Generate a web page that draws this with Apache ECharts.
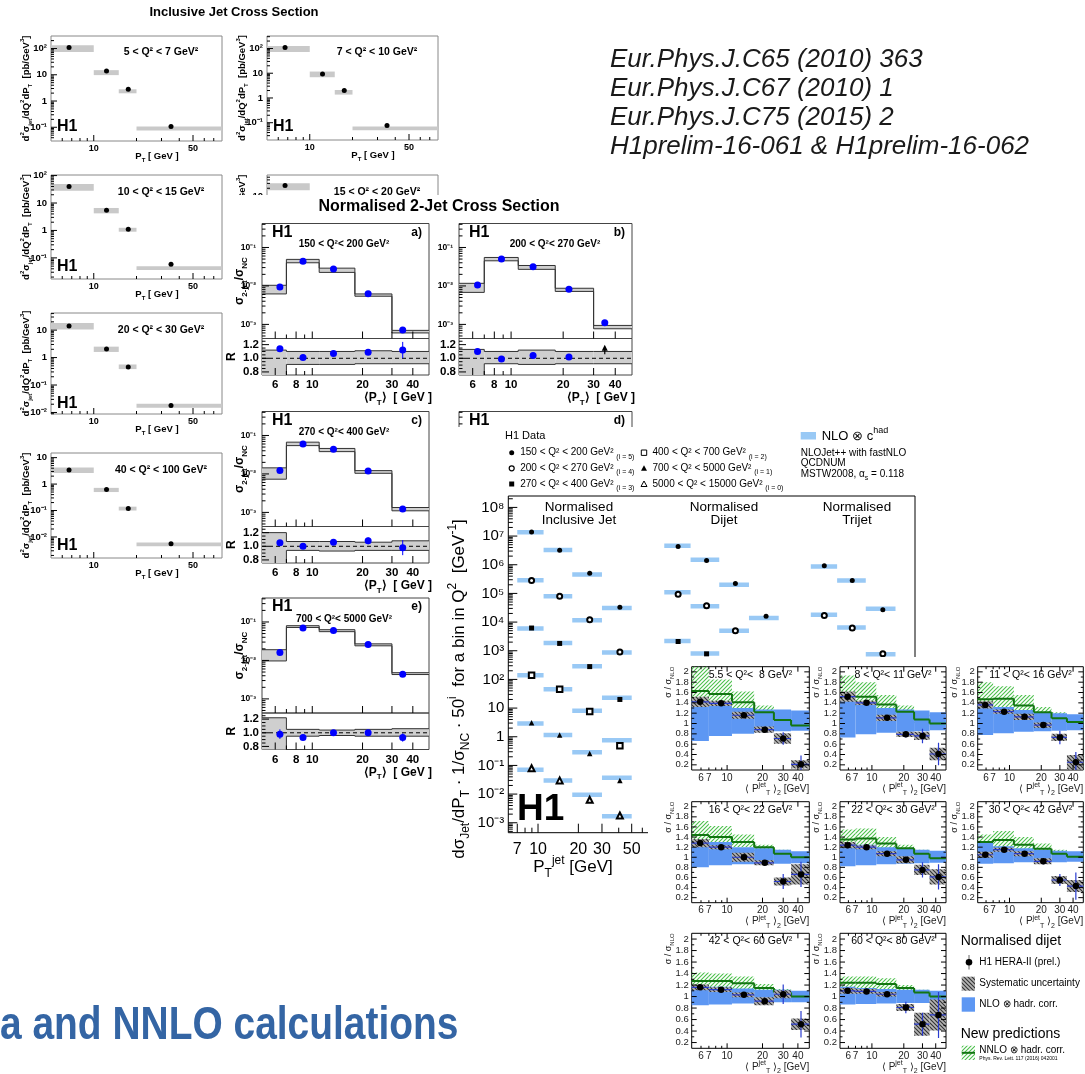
<!DOCTYPE html>
<html><head><meta charset="utf-8"><title>H1 jet cross sections</title>
<script src="https://cdn.jsdelivr.net/npm/echarts@6.0.0/dist/echarts.min.js"></script>
<style>html,body{margin:0;padding:0;background:#fff}body{position:relative;width:1085px;height:1074px;overflow:hidden}</style>
</head><body>
<script>
// ===================== DATA =====================
// --- Inclusive jet cross sections d²σ/dQ²dP_T [pb/GeV³] (top-left block) ---
const incQ2Labels = ['5 < Q² < 7 GeV²','7 < Q² < 10 GeV²','10 < Q² < 15 GeV²','15 < Q² < 20 GeV²','20 < Q² < 30 GeV²','40 < Q² < 100 GeV²'];
const incPtLo = [5, 10, 15, 20];
const incPtHi = [10, 15, 20, 80];
const incPtMid = [6.7, 12.3, 17.5, 35];
const incSigma = [
  [110, 14, 2.8, 0.106],
  [110, 9.4, 2.0, 0.078],
  [40, 5.4, 1.1, 0.059],
  [25, 3.2, 0.75, 0.035],
  [14, 2.04, 0.45, 0.018],
  [3.4, 0.62, 0.12, 0.0055]
];
const incNloLo = [
  [74, 9.7, 1.97, 0.075],
  [73, 6.9, 1.37, 0.049],
  [28, 4.2, 0.9, 0.036],
  [17, 2.5, 0.6, 0.022],
  [10.5, 1.6, 0.38, 0.015],
  [2.6, 0.5, 0.1, 0.0045]
];
const incNloHi = [
  [134, 15, 2.8, 0.106],
  [127, 11.7, 2.1, 0.071],
  [49, 6.6, 1.25, 0.05],
  [30, 3.8, 0.9, 0.03],
  [18, 2.5, 0.56, 0.021],
  [4.2, 0.72, 0.14, 0.0062]
];
const incYTicks = [[100,10,1,0.1],[100,10,1,0.1],[100,10,1,0.1],[10,1,0.1],[10,1,0.1,0.01],[10,1,0.1,0.01]];
const incXTicks = [6,7,8,9,10,20,30,40,50,60,70];
const incXLabels = ['','','','','10','','','','50','',''];

// --- Normalised 2-jet cross sections (middle block) ---
const djEdges = [5,7,11,18,30,50];
const djPt = [6.4,8.8,13.4,21.6,34.8];
const djQ2 = ['150 < Q²< 200 GeV²','200 < Q²< 270 GeV²','270 < Q²< 400 GeV²','400 < Q²< 700 GeV²','700 < Q²< 5000 GeV²'];
const djTag = ['a)','b)','c)','d)','e)'];
const djSigma = [[0.0094,0.044,0.0276,0.0063,0.00071],[0.0106,0.050,0.0316,0.0082,0.0011],[0.0122,0.060,0.044,0.012,0.00123],null,[0.016,0.07,0.06,0.026,0.0044]];
const djNloLo = [[0.0062,0.040,0.0225,0.0054,0.0006],[0.0068,0.045,0.027,0.0072,0.00077],[0.0073,0.0545,0.038,0.0104,0.0011],null,[0.0097,0.072,0.056,0.024,0.0043]];
const djNloHi = [[0.0104,0.049,0.029,0.0062,0.0007],[0.0117,0.055,0.034,0.0087,0.00094],[0.0144,0.067,0.046,0.0122,0.00134],null,[0.019,0.08,0.063,0.027,0.0048]];
const djRatio = [[1.14,1.01,1.07,1.09,1.12],[1.1,0.99,1.04,1.02,null],[1.05,1.0,1.06,1.08,0.98],null,[0.98,0.93,1.0,1.0,0.93]];
const djRatioErr = [[0.015,0.01,0.015,0.04,0.12],[0.03,0.01,0.015,0.03,0],[0.04,0.01,0.015,0.05,0.11],null,[0.07,0.015,0.015,0.02,0.06]];
const djBandLo = [[0.6,0.91,0.91,0.92,0.92],[0.6,0.92,0.91,0.92,0.92],[0.6,0.94,0.93,0.94,0.94],null,[0.6,0.95,0.96,0.95,0.95]];
const djBandHi = [[1.12,1.10,1.10,1.11,1.10],[1.13,1.10,1.12,1.10,1.10],[1.2,1.07,1.07,1.06,1.08],null,[1.22,1.05,1.04,1.05,1.06]];
const djArrow = [34.8, 1.06, 1.2];
const djXTicks = [6,7,8,9,10,20,30,40];
const djXLabels = ['6','','8','','10','20','30','40'];

// --- Normalised inclusive jet / dijet / trijet (scaled by 50^i) ---
const bigQ2Labels = ['150 < Q² < 200 GeV²','200 < Q² < 270 GeV²','270 < Q² < 400 GeV²','400 < Q² < 700 GeV²','700 < Q² < 5000 GeV²','5000 < Q² < 15000 GeV²'];
const bigIdx = ['(i = 5)','(i = 4)','(i = 3)','(i = 2)','(i = 1)','(i = 0)'];
const incJetBins = [[7,11],[11,18],[18,30],[30,50]];
const incJetPt = [8.95,14.5,24.3,40.8];
const incJetY = [[1.4e7,3.2e6,5e5,3.3e4],[2.8e5,8e4,1.2e4,900],[6200,1800,280,20],[140,45,7.6,0.49],[3.1,1.15,0.26,0.03],[0.08,0.03,0.0063,0.0018]];
const incJetNLO = [[1.35e7,3.3e6,4.6e5,3.1e4],[2.9e5,8e4,1.15e4,870],[6000,1850,290,23],[140,45,8,0.75],[2.9,1.15,0.29,0.037],[0.07,0.03,0.0095,0.0017]];
const diJetBins = [[87.5,137.5],[137.5,225],[225,375],[375,625]];
const diJetPt = [111,181,297,503];
const diJetY = [[4.3e6,1.4e6,2.2e5,1.6e4],[9.3e4,3.7e4,5000,400],[2100,780,120,9]];
const diJetNLO = [[4.6e6,1.5e6,2e5,1.4e4],[1.1e5,3.6e4,5000,420],[2200,800,120,9]];
const triJetBins = [[1085,1705],[1705,2790],[2790,4650]];
const triJetPt = [1368,2212,3740];
const triJetY = [[9.3e5,2.8e5,2.7e4],[1.7e4,6200,780]];
const triJetNLO = [[8.6e5,2.8e5,2.9e4],[1.8e4,6500,750]];
const bigYTicks = [1e8,1e7,1e6,1e5,1e4,1e3,100,10,1,0.1,0.01,0.001];
const bigXTicks = [7,8,9,10,20,30,40,50,60,70,80,90];
const bigXLabels = ['7','','','10','20','30','','50','','','',''];

// --- Ratio to NLO, normalised dijet HERA-II (bottom-right block) ---
const rcQ2 = ['5.5 < Q²<  8 GeV²','8 < Q²< 11 GeV²','11 < Q²< 16 GeV²','16 < Q²< 22 GeV²','22 < Q²< 30 GeV²','30 < Q²< 42 GeV²','42 < Q²< 60 GeV²','60 < Q²< 80 GeV²'];
const rcBins = [[5,7],[7,11],[11,17],[17,25],[25,35],[35,50]];
const rcPt = [5.9,8.9,13.9,20.9,30,42.5];
const rcData = [[1.42,1.39,1.16,0.88,0.71,0.21],[1.52,1.40,1.11,0.79,0.76,0.41],[1.36,1.23,1.13,0.97,0.73,0.25],[1.28,1.2,1.0,0.89,0.52,0.66],[1.24,1.2,1.07,0.95,0.75,0.61],[1.05,1.15,1.07,0.92,0.55,0.43],[1.16,1.12,1.03,0.92,1.04,0.52],[1.1,1.09,1.04,0.81,0.52,0.68]];
const rcStat = [[0.04,0.03,0.04,0.04,0.12,0.17],[0.04,0.03,0.04,0.06,0.14,0.22],[0.04,0.03,0.03,0.05,0.13,0.2],[0.04,0.03,0.03,0.05,0.15,0.25],[0.04,0.03,0.03,0.06,0.15,0.25],[0.04,0.03,0.03,0.06,0.12,0.27],[0.04,0.03,0.04,0.05,0.17,0.23],[0.05,0.04,0.04,0.1,0.2,0.4]];
const rcSys = [[0.1,0.05,0.07,0.06,0.1,0.08],[0.1,0.04,0.06,0.05,0.08,0.12],[0.07,0.04,0.06,0.05,0.07,0.14],[0.08,0.04,0.09,0.05,0.08,0.2],[0.06,0.04,0.05,0.07,0.1,0.15],[0.06,0.04,0.05,0.06,0.08,0.12],[0.05,0.04,0.04,0.07,0.07,0.1],[0.05,0.04,0.04,0.06,0.2,0.27]];
const rcNNLO = [[1.63,1.57,1.41,1.22,1.07,0.96],[1.53,1.52,1.37,1.23,1.08,1.0],[1.47,1.48,1.35,1.22,1.1,1.03],[1.44,1.4,1.3,1.2,1.07,1.0],[1.35,1.37,1.27,1.18,1.07,0.98],[1.3,1.34,1.25,1.17,1.07,1.01],[1.27,1.27,1.23,1.15,1.07,1.0],[1.24,1.24,1.22,1.15,1.07,1.0]];
const rcNNLOLo = [[1.38,1.35,1.25,1.1,0.98,0.9],[1.3,1.3,1.22,1.1,1.0,0.94],[1.28,1.3,1.2,1.1,1.0,0.96],[1.3,1.25,1.2,1.08,1.0,0.95],[1.2,1.22,1.15,1.08,1.0,0.94],[1.15,1.2,1.15,1.07,1.0,0.96],[1.13,1.15,1.1,1.05,1.0,0.96],[1.13,1.14,1.1,1.05,1.0,0.95]];
const rcNNLOHi = [[2.15,1.85,1.62,1.35,1.18,1.07],[1.93,1.8,1.55,1.35,1.2,1.1],[1.8,1.72,1.55,1.32,1.22,1.1],[1.72,1.62,1.45,1.25,1.15,1.05],[1.55,1.57,1.4,1.25,1.15,1.05],[1.45,1.52,1.4,1.27,1.15,1.08],[1.42,1.4,1.35,1.22,1.13,1.05],[1.35,1.35,1.32,1.2,1.12,1.05]];
const rcNLOLo = [[0.66,0.76,0.8,0.83,0.85,0.86],[0.73,0.79,0.82,0.84,0.85,0.87],[0.78,0.81,0.84,0.85,0.86,0.87],[0.8,0.84,0.86,0.86,0.87,0.88],[0.82,0.84,0.86,0.87,0.88,0.89],[0.87,0.88,0.9,0.9,0.9,0.91],[0.85,0.86,0.88,0.89,0.9,0.9],[0.86,0.87,0.88,0.89,0.89,0.9]];
const rcNLOHi = [[1.45,1.38,1.3,1.27,1.27,1.25],[1.45,1.38,1.3,1.27,1.25,1.22],[1.38,1.32,1.26,1.22,1.2,1.18],[1.35,1.3,1.2,1.18,1.15,1.12],[1.3,1.25,1.2,1.17,1.15,1.13],[1.28,1.22,1.18,1.15,1.13,1.12],[1.2,1.17,1.14,1.12,1.12,1.1],[1.17,1.15,1.13,1.12,1.12,1.1]];
const rcYTicks = [0.2,0.4,0.6,0.8,1,1.2,1.4,1.6,1.8,2];
const rcYLabels = ['0.2','0.4','0.6','0.8','1','1.2','1.4','1.6','1.8','2'];
const rcXTicks = [6,7,8,9,10,20,30,40];
const rcXLabels = ['6','7','','','10','20','30','40'];

// ===================== HELPERS =====================
const FONT = "'Liberation Sans', Arial, Helvetica, sans-serif";
function fnt(sz,b,it,fam){return (it?'italic ':'')+(b?'bold ':'')+sz+'px '+(fam||FONT);}
function richSS(sz,b){const w=b?'bold':'normal',s=Math.round(sz*0.68);
  return {sub:{fontSize:s,fontWeight:w,fontFamily:FONT,verticalAlign:'bottom'},
          sup:{fontSize:s,fontWeight:w,fontFamily:FONT,verticalAlign:'top'},
          sm:{fontSize:Math.round(sz*0.72),fontWeight:w,fontFamily:FONT,verticalAlign:'bottom'}};}
const SUPC={'0':'⁰','1':'¹','2':'²','3':'³','4':'⁴','5':'⁵','6':'⁶','7':'⁷','8':'⁸','9':'⁹','-':'⁻'};
function pw(v){const e=Math.round(Math.log10(v)); if(e===0)return '1'; if(e===1)return '10'; return '10'+String(e).split('').map(c=>SUPC[c]).join('');}
function logMinor(a,b){const r=[];for(let e=Math.floor(Math.log10(a));e<=Math.ceil(Math.log10(b));e++)for(let m=2;m<=9;m++){const v=m*Math.pow(10,e);if(v>a*1.0001&&v<b*0.9999)r.push(v);}return r;}

function S(x,y,w,h,z){
  const d=document.createElement('div');
  d.style.cssText='position:absolute;left:'+x+'px;top:'+y+'px;width:'+w+'px;height:'+h+'px;background:#fff;z-index:'+z;
  document.body.appendChild(d);
  return {d,ox:x,oy:y,opt:{animation:false,grid:[],xAxis:[],yAxis:[],series:[],graphic:{elements:[]}}};
}
function P(s,x1,y1,x2,y2,xlog,xmin,xmax,ylog,ymin,ymax,bc){
  const gi=s.opt.grid.length;
  s.opt.grid.push({left:x1-s.ox,top:y1-s.oy,width:x2-x1,height:y2-y1,show:true,borderColor:bc||'#000',borderWidth:1,backgroundColor:'rgba(0,0,0,0)'});
  const ax=(lg,mn,mx)=>({gridIndex:gi,type:lg?'log':'value',logBase:10,min:mn,max:mx,show:false,splitLine:{show:false}});
  s.opt.xAxis.push(ax(xlog,xmin,xmax)); s.opt.yAxis.push(ax(ylog,ymin,ymax));
  return {s,gi,x1,y1,x2,y2,xmin,xmax,ymin,ymax};
}
function C(p,data,render,z,clip,enc){
  p.s.opt.series.push({type:'custom',xAxisIndex:p.gi,yAxisIndex:p.gi,data,renderItem:render,clip:clip!==false,silent:true,z:z||2,encode:enc||{x:0,y:1},animation:false});
}
function SC(p,data,symbol,size,color,bw,z){
  p.s.opt.series.push({type:'scatter',xAxisIndex:p.gi,yAxisIndex:p.gi,data,symbol,symbolSize:size,silent:true,z:z||8,animation:false,
    itemStyle:{color:color,borderColor:color,borderWidth:bw||0,opacity:1}});
}
function txt(s,x,y,text,o){o=o||{};const sz=o.size||12;
  const el={type:'text',x:x-s.ox,y:y-s.oy,z:100,silent:true,
    style:{text:text,font:fnt(sz,o.bold,o.italic,o.family),fill:o.color||'#000',align:o.align||'left',verticalAlign:o.va||'middle'}};
  if(o.rot)el.rotation=o.rot;
  if(o.sx)el.scaleX=o.sx;
  if(text.indexOf('{')>=0){el.style.rich=richSS(sz,o.bold);el.style.lineHeight=Math.round(sz*1.45);}
  s.opt.graphic.elements.push(el);
}
function gel(s,el){
  if(el.shape){
    if(el.shape.x!==undefined)el.shape.x-=s.ox; if(el.shape.y!==undefined)el.shape.y-=s.oy;
    if(el.shape.cx!==undefined){el.shape.cx-=s.ox;el.shape.cy-=s.oy;}
    if(el.shape.x1!==undefined){el.shape.x1-=s.ox;el.shape.x2-=s.ox;el.shape.y1-=s.oy;el.shape.y2-=s.oy;}
    if(el.shape.points)el.shape.points=el.shape.points.map(q=>[q[0]-s.ox,q[1]-s.oy]);
  }
  el.z=el.z||90; el.silent=true; s.opt.graphic.elements.push(el);
}
const ln=(x1,y1,x2,y2,c,w,dash)=>({type:'line',shape:{x1,y1,x2,y2},style:{stroke:c||'#000',lineWidth:w||1,lineDash:dash||null}});
const R={
  rect:st=>(pa,api)=>{const a=api.coord([api.value(0),api.value(3)]),b=api.coord([api.value(1),api.value(2)]);
    return {type:'rect',shape:{x:a[0],y:a[1],width:b[0]-a[0],height:b[1]-a[1]},style:st};},
  hseg:st=>(pa,api)=>{const a=api.coord([api.value(0),api.value(2)]),b=api.coord([api.value(1),api.value(2)]);
    return {type:'line',shape:{x1:a[0],y1:a[1],x2:b[0],y2:b[1]},style:st};},
  step:st=>(pa,api)=>{const a=api.coord([api.value(0),api.value(2)]),b=api.coord([api.value(1),api.value(2)]);
    const ch=[{type:'line',shape:{x1:a[0],y1:a[1],x2:b[0],y2:b[1]},style:st}];
    if(api.value(4)){const c=api.coord([api.value(0),api.value(3)]);ch.push({type:'line',shape:{x1:a[0],y1:c[1],x2:a[0],y2:a[1]},style:st});}
    return {type:'group',children:ch};},
  verr:st=>(pa,api)=>{const x=api.value(0),y=api.value(1),e=api.value(2);const a=api.coord([x,y-e]),b=api.coord([x,y+e]);
    return {type:'line',shape:{x1:a[0],y1:a[1],x2:b[0],y2:b[1]},style:st};},
  xyerr:st=>(pa,api)=>{const x=api.value(0),y=api.value(1),e=api.value(2);
    const a=api.coord([x,y-e]),b=api.coord([x,y+e]),l=api.coord([api.value(3),y]),r=api.coord([api.value(4),y]);
    return {type:'group',children:[{type:'line',shape:{x1:a[0],y1:a[1],x2:b[0],y2:b[1]},style:st},{type:'line',shape:{x1:l[0],y1:l[1],x2:r[0],y2:r[1]},style:st}]};},
  arrow:st=>(pa,api)=>{const a=api.coord([api.value(0),api.value(1)]),b=api.coord([api.value(0),api.value(2)]);
    return {type:'group',children:[{type:'line',shape:{x1:a[0],y1:a[1],x2:b[0],y2:b[1]+2},style:st},
      {type:'polygon',shape:{points:[[b[0],b[1]],[b[0]-3,b[1]+6],[b[0]+3,b[1]+6]]},style:{fill:st.stroke}}]};}
};
function stepData(edges,vals){return vals.map((v,j)=>[edges[j],edges[j+1],v,j>0?vals[j-1]:v,j>0?1:0]);}
function xt(p,vals,labs,o){
  C(p,vals.map((v,i)=>[v,p.ymin,i]),(pa,api)=>{
    const v=api.value(0),i=api.value(2);const b=api.coord([v,p.ymin]);
    const major=o.major?o.major.indexOf(v)>=0:!!(labs&&labs[i]);
    const L=major?o.len:(o.mlen||o.len*0.5);const tc=o.tc||'#000';
    const ch=[ln(b[0],b[1],b[0],b[1]-L,tc)];
    if(o.top){const t=api.coord([v,p.ymax]);ch.push(ln(t[0],t[1],t[0],t[1]+L,tc));}
    if(labs&&labs[i]&&!o.noLab)ch.push({type:'text',x:b[0],y:b[1]+o.dy,style:{text:labs[i],font:o.font,fill:o.color||'#000',align:'center',verticalAlign:'middle'}});
    return {type:'group',children:ch};
  },9,false);
}
function yt(p,vals,labs,o){
  C(p,vals.map((v,i)=>[p.xmin,v,i]),(pa,api)=>{
    const v=api.value(1),i=api.value(2);const a=api.coord([p.xmin,v]);const tc=o.tc||'#000';
    const ch=[ln(a[0],a[1],a[0]+o.len,a[1],tc)];
    if(o.right){const r=api.coord([p.xmax,v]);ch.push(ln(r[0],r[1],r[0]-o.len,r[1],tc));}
    if(labs&&labs[i])ch.push({type:'text',x:a[0]-o.dx,y:a[1],style:{text:labs[i],font:o.font,fill:o.color||'#000',align:'right',verticalAlign:'middle'}});
    return {type:'group',children:ch};
  },9,false);
}
function hatch(bg,fg,size,lw,dir){
  const c=document.createElement('canvas');c.width=c.height=size;const g=c.getContext('2d');
  if(bg){g.fillStyle=bg;g.fillRect(0,0,size,size);}
  g.strokeStyle=fg;g.lineWidth=lw;g.beginPath();
  if(dir>0){g.moveTo(0,size);g.lineTo(size,0);g.moveTo(-size/2,size/2);g.lineTo(size/2,-size/2);g.moveTo(size/2,size*1.5);g.lineTo(size*1.5,size/2);}
  else{g.moveTo(0,0);g.lineTo(size,size);g.moveTo(size/2,-size/2);g.lineTo(size*1.5,size/2);g.moveTo(-size/2,size/2);g.lineTo(size/2,size*1.5);}
  g.stroke();return {image:c,repeat:'repeat'};
}
const sysHatch=hatch('#b5b5b5','#333',4,1.1,-1);
const nnloHatch=hatch(null,'#4cc04c',4,1.1,1);

// ===================== SHEET 0: page texts =====================
const s0=S(0,0,1085,1074,0);
['Eur.Phys.J.C65 (2010) 363','Eur.Phys.J.C67 (2010) 1','Eur.Phys.J.C75 (2015) 2','H1prelim-16-061 & H1prelim-16-062'].forEach((t,i)=>
  txt(s0,610,60+i*29,t,{size:26,italic:true,color:'#1a1a1a'}));
txt(s0,0,1026,'a and NNLO calculations',{size:46,bold:true,color:'#3465a4',sx:0.846});

// ===================== SHEET 1: inclusive jet =====================
const s1=S(0,0,455,600,1);
txt(s1,234,12,'Inclusive Jet Cross Section',{size:13,bold:true,align:'center'});
const incBox=[[51,36,222,141],[267,36,438,140],[51,175,222,279],[267,175,438,280],[51,313,222,414],[51,453,222,558]];
const incYRange=[[0.03,300],[0.02,320],[0.017,105],[0.01,60],[0.0088,42],[0.0016,15]];
const incTextY=[52,52,192,192,330,470];
const incH1Y=[127,127,267,0,404,546];
incBox.forEach((B,k)=>{
  const p=P(s1,B[0],B[1],B[2],B[3],true,5,80,true,incYRange[k][0],incYRange[k][1],'#888');
  C(p,incPtLo.map((lo,j)=>[lo,incPtHi[j],incNloLo[k][j],incNloHi[k][j]]),R.rect({fill:'#c9c9c9'}),2,true,{x:[0,1],y:[2,3]});
  SC(p,incPtMid.map((x,j)=>[x,incSigma[k][j]]),'circle',5,'#000');
  yt(p,incYTicks[k],incYTicks[k].map(pw),{len:6,font:fnt(9.5,true),dx:4});
  yt(p,logMinor(p.ymin,p.ymax),null,{len:3});
  xt(p,incXTicks,incXLabels,{len:6,mlen:3,font:fnt(9,true),dy:8});
  txt(s1,B[0]+110,incTextY[k],incQ2Labels[k],{size:10.5,bold:true,align:'center'});
  if(incH1Y[k])txt(s1,B[0]+6,incH1Y[k],'H1',{size:16,bold:true});
  txt(s1,B[0]+106,B[3]+15,'P{sub|T} [ GeV ]',{size:9.5,bold:true,align:'center'});
  txt(s1,B[0]-25,(B[1]+B[3])/2,'d{sup|2}σ{sub|jet}/dQ{sup|2}dP{sub|T}  [pb/GeV{sup|3}]',{size:9.5,bold:true,align:'center',rot:Math.PI/2});
});

// ===================== SHEET 2: normalised 2-jet =====================
const s2=S(226,195,414,590,2);
txt(s2,439,207,'Normalised 2-Jet Cross Section',{size:16,bold:true,align:'center'});
const djBox=[[262,429,223.5,338.5,375],[459,632,223.5,338.5,375],[262,429,411.5,526.5,563],[459,632,411.5,526.5,563],[262,429,598,713,749.5]];
const djQx=[82,96,82,90,82];
djBox.forEach((B,k)=>{
  const [x1,x2,t,m,b]=B;
  const up=P(s2,x1,t,x2,m,true,5,50,true,4.3e-4,0.42,'#444');
  const rt=P(s2,x1,m,x2,b,true,5,50,false,0.755,1.29,'#444');
  if(djSigma[k]){
    C(up,djPt.map((x,j)=>[djEdges[j],djEdges[j+1],djNloLo[k][j],djNloHi[k][j]]),R.rect({fill:'#cfcfcf'}),2,true,{x:[0,1],y:[2,3]});
    C(up,stepData(djEdges,djNloLo[k]),R.step({stroke:'#333',lineWidth:1}),3,true,{x:[0,1],y:2});
    C(up,stepData(djEdges,djNloHi[k]),R.step({stroke:'#333',lineWidth:1}),3,true,{x:[0,1],y:2});
    SC(up,djPt.map((x,j)=>[x,djSigma[k][j]]),'circle',7,'#0000ff');
    C(rt,djPt.map((x,j)=>[djEdges[j],djEdges[j+1],djBandLo[k][j],djBandHi[k][j]]),R.rect({fill:'#cfcfcf'}),2,true,{x:[0,1],y:[2,3]});
    C(rt,stepData(djEdges,djBandLo[k]),R.step({stroke:'#333',lineWidth:1}),3,true,{x:[0,1],y:2});
    C(rt,stepData(djEdges,djBandHi[k]),R.step({stroke:'#333',lineWidth:1}),3,true,{x:[0,1],y:2});
    C(rt,[[5,50,1.0]],R.hseg({stroke:'#000',lineWidth:1,lineDash:[4,3]}),4,true,{x:[0,1],y:2});
    const rd=djPt.map((x,j)=>[x,djRatio[k][j],djRatioErr[k][j]]).filter(d=>d[1]!=null);
    C(rt,rd,R.verr({stroke:'#0000ff',lineWidth:1}),5);
    SC(rt,rd.map(d=>[d[0],d[1]]),'circle',7,'#0000ff');
    if(k===1)C(rt,[djArrow],R.arrow({stroke:'#000',lineWidth:1.2}),6,true,{x:0,y:[1,2]});
  }
  yt(up,[0.1,0.01,0.001],['10⁻¹','10⁻²','10⁻³'],{len:7,font:fnt(8.5,true),dx:6});
  yt(up,logMinor(4.3e-4,0.42),null,{len:3.5});
  yt(rt,[0.8,1.0,1.2],['0.8','1.0','1.2'],{len:7,font:fnt(11.5,true),dx:3});
  yt(rt,[0.85,0.9,0.95,1.05,1.1,1.15,1.25],null,{len:3.5});
  xt(up,djXTicks,djXLabels,{len:7,mlen:4,noLab:true});
  xt(rt,djXTicks,djXLabels,{len:7,mlen:4,font:fnt(11.5,true),dy:10});
  txt(s2,x1+10,t+9,'H1',{size:16,bold:true});
  txt(s2,x2-7,t+9,djTag[k],{size:12,bold:true,align:'right'});
  txt(s2,x1+djQx[k],t+21,djQ2[k],{size:10,bold:true,align:'center'});
  txt(s2,x2+3,b+23,'⟨P{sub|T}⟩  [ GeV ]',{size:12,bold:true,align:'right'});
  if(k%2===0){
    txt(s2,x1-22,(t+m)/2,'σ{sub|2-jet}/σ{sub|NC}',{size:12,bold:true,align:'center',rot:Math.PI/2});
    txt(s2,x1-30,(m+b)/2,'R',{size:12,bold:true,align:'center',rot:Math.PI/2});
  }
});

// ===================== SHEET 3: normalised jet summary =====================
const s3=S(437,427,483,463,3);
const bg=P(s3,508.3,496,915,832.7,true,6,6500,true,4.5e-4,2.5e8,'#000');
const secs=[{bins:incJetBins,mid:incJetPt,y:incJetY,t:incJetNLO},{bins:diJetBins,mid:diJetPt,y:diJetY,t:diJetNLO},{bins:triJetBins,mid:triJetPt,y:triJetY,t:triJetNLO}];
const mk=[['circle',5,0],['emptyCircle',5,1.3],['rect',5,0],['emptyRect',5.5,1.2],['triangle',5.5,0],['emptyTriangle',6,1.1]];
secs.forEach(sec=>{
  sec.t.forEach(arr=>C(bg,sec.bins.map((b,j)=>[b[0],b[1],arr[j]]),R.hseg({stroke:'#99c9f5',lineWidth:4.5}),2,true,{x:[0,1],y:2}));
  sec.y.forEach((arr,i)=>SC(bg,sec.mid.map((x,j)=>[x,arr[j]]),mk[i][0],mk[i][1],'#000',mk[i][2]));
});
yt(bg,bigYTicks,bigYTicks.map(pw),{len:9,font:fnt(15),dx:4});
yt(bg,logMinor(4.5e-4,2.5e8),null,{len:4.5});
xt(bg,bigXTicks,bigXLabels,{len:9,mlen:5,font:fnt(16),dy:17});
txt(s3,579,507,'Normalised',{size:13.5,align:'center'});
txt(s3,579,520,'Inclusive Jet',{size:13.5,align:'center'});
txt(s3,724,507,'Normalised',{size:13.5,align:'center'});
txt(s3,724,520,'Dijet',{size:13.5,align:'center'});
txt(s3,857,507,'Normalised',{size:13.5,align:'center'});
txt(s3,857,520,'Trijet',{size:13.5,align:'center'});
txt(s3,517,810,'H1',{size:37,bold:true});
txt(s3,573,867,'P{sub|T}{sup|jet} [GeV]',{size:17,align:'center'});
txt(s3,459,689,'dσ{sub|Jet}/dP{sub|T} · 1/σ{sub|NC} · 50{sup|i}  for a bin in Q{sup|2}  [GeV{sup|-1}]',{size:17,align:'center',rot:Math.PI/2});
// legend
txt(s3,505,436,'H1 Data',{size:11});
const legPos=[[511.7,452.7],[511.7,468.3],[511.7,484],[644,452.7],[644,468.3],[644,484]];
legPos.forEach((q,i)=>{
  const [x,y]=q;
  if(i===0)gel(s3,{type:'circle',shape:{cx:x,cy:y,r:2.5},style:{fill:'#000'}});
  if(i===1)gel(s3,{type:'circle',shape:{cx:x,cy:y,r:2.5},style:{fill:'#fff',stroke:'#000',lineWidth:1.2}});
  if(i===2)gel(s3,{type:'rect',shape:{x:x-2.5,y:y-2.5,width:5,height:5},style:{fill:'#000'}});
  if(i===3)gel(s3,{type:'rect',shape:{x:x-2.7,y:y-2.7,width:5.4,height:5.4},style:{fill:'#fff',stroke:'#000',lineWidth:1}});
  if(i===4)gel(s3,{type:'polygon',shape:{points:[[x,y-3],[x-3,y+2.5],[x+3,y+2.5]]},style:{fill:'#000'}});
  if(i===5)gel(s3,{type:'polygon',shape:{points:[[x,y-3],[x-3,y+2.5],[x+3,y+2.5]]},style:{fill:'#fff',stroke:'#000',lineWidth:1}});
  txt(s3,x+8.5,y,bigQ2Labels[i]+' {sm|'+bigIdx[i]+'}',{size:10});
});
gel(s3,{type:'rect',shape:{x:800.7,y:432,width:15.3,height:7.5},style:{fill:'#99c9f5'}});
txt(s3,821.7,436,'NLO ⊗ c{sup|had}',{size:13});
txt(s3,800.7,453.3,'NLOJet++ with fastNLO',{size:10});
txt(s3,800.7,463.5,'QCDNUM',{size:10});
txt(s3,800.7,474.3,'MSTW2008, α{sub|s} = 0.118',{size:10});

// ===================== SHEET 4: ratio plots =====================
const s4=S(648,657,437,417,4);
const rcCols=[[691.7,809.3],[840,946],[977.7,1083.3]];
const rcRows=[[666.7,770],[801.7,902.7],[933.3,1048.3]];
rcQ2.forEach((q,k)=>{
  const [x1,x2]=rcCols[k%3],[y1,y2]=rcRows[Math.floor(k/3)];
  const p=P(s4,x1,y1,x2,y2,true,5,50,false,0.1,2.1,'#000');
  C(p,rcBins.map((b,j)=>[b[0],b[1],rcNNLOLo[k][j],rcNNLOHi[k][j]]),R.rect({fill:nnloHatch}),2,true,{x:[0,1],y:[2,3]});
  C(p,rcBins.map((b,j)=>[b[0],b[1],rcNLOLo[k][j],rcNLOHi[k][j]]),R.rect({fill:'#5d97f3'}),3,true,{x:[0,1],y:[2,3]});
  C(p,stepData([5,7,11,17,25,35,50],rcNNLO[k]),R.step({stroke:'#127512',lineWidth:2}),4,true,{x:[0,1],y:2});
  C(p,rcBins.map((b,j)=>[b[0],b[1],rcData[k][j]-rcSys[k][j],rcData[k][j]+rcSys[k][j]]),R.rect({fill:sysHatch}),5,true,{x:[0,1],y:[2,3]});
  C(p,rcPt.map((x,j)=>[x,rcData[k][j],rcStat[k][j],rcBins[j][0],rcBins[j][1]]),R.xyerr({stroke:'#2a3ccf',lineWidth:1.2}),6);
  SC(p,rcPt.map((x,j)=>[x,rcData[k][j]]),'circle',6.5,'#000');
  yt(p,rcYTicks,rcYLabels,{len:5,font:fnt(9.5),dx:3,right:true,color:'#222'});
  yt(p,[0.3,0.5,0.7,0.9,1.1,1.3,1.5,1.7,1.9],null,{len:2.5,right:true});
  xt(p,rcXTicks,rcXLabels,{len:5,mlen:2.5,font:fnt(10),dy:8,top:true,color:'#222',major:[10,20,30,40]});
  txt(s4,x1+(x2-x1)*0.5,y1+8,q,{size:10.5,align:'center'});
  txt(s4,x2,y2+19,'⟨ P{sup|jet}{sub|T} ⟩{sub|2} [GeV]',{size:10,align:'right',color:'#222'});
  txt(s4,x1-23,y1,'σ / σ{sub|NLO}',{size:9,align:'right',rot:Math.PI/2,color:'#222'});
});
// legend
txt(s4,960.7,941,'Normalised dijet',{size:14});
gel(s4,{type:'line',shape:{x1:969,y1:955,x2:969,y2:969.5},style:{stroke:'#666',lineWidth:1}});
gel(s4,{type:'circle',shape:{cx:969,cy:962.3,r:3.3},style:{fill:'#000'}});
txt(s4,979.3,962.3,'H1 HERA-II (prel.)',{size:10});
gel(s4,{type:'rect',shape:{x:961.7,y:976.7,width:13.3,height:14},style:{fill:sysHatch}});
txt(s4,979.3,983.7,'Systematic uncertainty',{size:10});
gel(s4,{type:'rect',shape:{x:961.7,y:997.3,width:13.3,height:14.4},style:{fill:'#5d97f3'}});
txt(s4,979.3,1004.5,'NLO ⊗ hadr. corr.',{size:10});
txt(s4,960.7,1034,'New predictions',{size:14});
gel(s4,{type:'rect',shape:{x:961.7,y:1045.7,width:13.3,height:14.3},style:{fill:nnloHatch}});
gel(s4,{type:'line',shape:{x1:961.7,y1:1052.8,x2:975,y2:1052.8},style:{stroke:'#127512',lineWidth:2}});
txt(s4,979.3,1050,'NNLO ⊗ hadr. corr.',{size:10});
txt(s4,979.3,1058.5,'Phys. Rev. Lett. 117 (2016) 042001',{size:5});

// ===================== RENDER =====================
[s0,s1,s2,s3,s4].forEach(s=>{const c=echarts.init(s.d,null,{renderer:'canvas'});c.setOption(s.opt);});
</script>
</body></html>
